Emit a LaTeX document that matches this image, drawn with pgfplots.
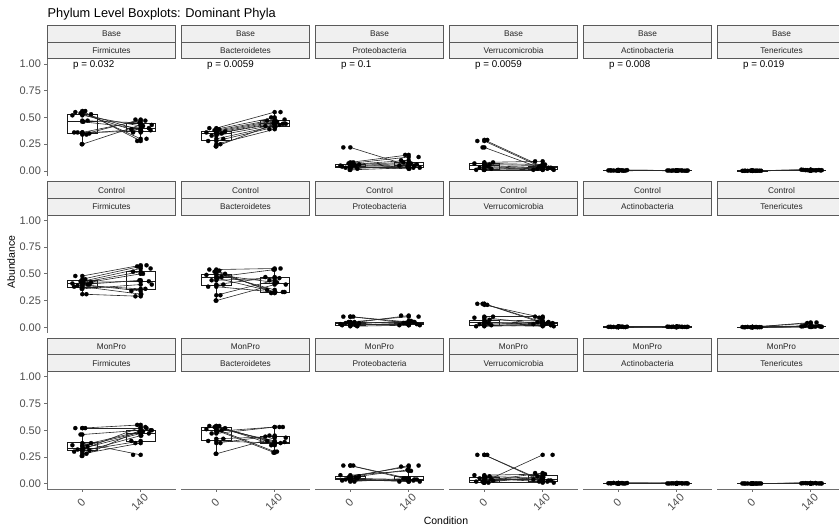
\documentclass[border=0pt]{standalone}
\usepackage{pgfplots}
\pgfplotsset{compat=1.18}
\usepackage{pgfplotstable}
\usepgfplotslibrary{statistics}
\usepackage{fontspec}
\setmainfont{Liberation Sans}
\definecolor{stripfill}{RGB}{240,240,240}
\definecolor{stripdraw}{RGB}{90,90,90}
\definecolor{axc}{RGB}{110,110,110}
\definecolor{tickc}{RGB}{77,77,77}
\definecolor{boxc}{RGB}{25,25,25}
\definecolor{linec}{RGB}{40,40,40}
\newcommand\tickfont{\fontsize{11}{13}\selectfont}
\newcommand\stripfont{\fontsize{8.3}{10}\selectfont}
\newcommand\pfont{\fontsize{9.8}{11}\selectfont}
\newcommand\axtfont{\fontsize{10.5}{12}\selectfont}
\newcommand\titfont{\fontsize{12.8}{15}\selectfont}

\pgfplotsset{
  bx/.style n args={6}{boxplot prepared={draw direction=y, draw position=#1, lower whisker=#2, lower quartile=#3, median=#4, upper quartile=#5, upper whisker=#6, box extend=0.5, whisker extend=0}},
  pt/.style={only marks, mark=*, mark size=2.1pt, mark options={fill=black, draw=black, line width=0.2pt}},
  pan/.style={scale only axis, width=128.4pt, height=117.7pt, xmin=0.4, xmax=2.6, ymin=-0.05, ymax=1.05,
    axis line style={draw=none}, xtick=\empty, ytick=\empty, clip=false, anchor=south west,
    tick pos=left, tick align=outside, major tick length=2.8pt, tick style={axc, line width=0.8pt},
    ticklabel style={font=\tickfont, text=tickc},
    /pgf/number format/assume math mode=true},
  ylab/.style={ytick={0,0.25,0.5,0.75,1}, yticklabels={0.00,0.25,0.50,0.75,1.00},
    extra description/.append code={\draw[axc, line width=0.9pt] (0,0) -- (0,1);}},
  xlab/.style={xtick={1,2}, xticklabels={0,140}, xticklabel style={yshift=-10.5pt, xshift=-1pt, rotate=45, anchor=center},
    extra description/.append code={\draw[axc, line width=0.9pt] (0,0) -- (1,0);}},
}

\pgfplotstableread{
ja jb
-0.12 0.10
0.05 -0.06
-0.03 0.17
0.15 -0.13
-0.17 0.04
0.09 -0.02
0.02 0.14
-0.08 0.08
0.12 -0.16
-0.14 0.01
0.07 -0.09
-0.01 0.19
}\jit

% ---------- Base ----------
\pgfplotstableread{
a b
0.55 0.30
0.56 0.28
0.54 0.38
0.53 0.36
0.52 0.42
0.47 0.45
0.46 0.40
0.36 0.47
0.35 0.39
0.36 0.37
0.34 0.48
0.25 0.43
}\tBF
\pgfplotstableread{
a b
0.40 0.55
0.39 0.50
0.38 0.48
0.37 0.47
0.36 0.46
0.35 0.45
0.35 0.44
0.33 0.43
0.30 0.42
0.28 0.41
0.25 0.39
0.23 0.44
}\tBB
\pgfplotstableread{
a b
0.22 0.05
0.08 0.15
0.07 0.13
0.06 0.10
0.05 0.07
0.05 0.04
0.04 0.06
0.03 0.03
0.02 0.05
0.04 0.02
0.06 0.08
0.01 0.03
}\tBP
\pgfplotstableread{
a b
0.28 0.03
0.29 0.04
0.22 0.02
0.08 0.09
0.07 0.06
0.06 0.05
0.05 0.03
0.03 0.02
0.02 0.01
0.01 0.04
0.04 0.02
0.01 0.01
}\tBV
\pgfplotstableread{
a b
0.004 0.003
0.006 0.005
0.003 0.002
0.008 0.004
0.005 0.006
0.002 0.003
0.007 0.002
0.004 0.005
0.003 0.004
0.006 0.003
0.005 0.002
0.009 0.004
}\tBA
\pgfplotstableread{
a b
0.002 0.006
0.001 0.008
0.003 0.005
0.002 0.010
0.001 0.007
0.002 0.004
0.003 0.009
0.001 0.006
0.002 0.012
0.001 0.005
0.002 0.008
0.003 0.007
}\tBT
% ---------- Control ----------
\pgfplotstableread{
a b
0.48 0.58
0.45 0.57
0.43 0.55
0.42 0.52
0.41 0.50
0.40 0.44
0.42 0.43
0.39 0.36
0.40 0.34
0.38 0.31
0.31 0.29
0.36 0.40
}\tCF
\pgfplotstableread{
a b
0.54 0.55
0.53 0.32
0.52 0.33
0.50 0.35
0.49 0.42
0.47 0.54
0.46 0.33
0.44 0.46
0.40 0.47
0.38 0.33
0.30 0.44
0.25 0.40
}\tCB
\pgfplotstableread{
a b
0.10 0.05
0.10 0.04
0.05 0.10
0.04 0.11
0.03 0.06
0.02 0.04
0.03 0.03
0.04 0.05
0.01 0.02
0.02 0.03
0.05 0.04
0.03 0.02
}\tCP
\pgfplotstableread{
a b
0.22 0.05
0.21 0.09
0.22 0.04
0.10 0.10
0.09 0.03
0.07 0.06
0.05 0.02
0.03 0.04
0.02 0.03
0.01 0.02
0.04 0.05
0.02 0.01
}\tCV
\pgfplotstableread{
a b
0.003 0.004
0.005 0.006
0.002 0.003
0.006 0.005
0.004 0.007
0.003 0.002
0.008 0.004
0.004 0.005
0.002 0.006
0.005 0.003
0.006 0.004
0.003 0.005
}\tCA
\pgfplotstableread{
a b
0.002 0.045
0.003 0.040
0.001 0.006
0.002 0.010
0.003 0.008
0.001 0.005
0.002 0.012
0.004 0.007
0.002 0.009
0.001 0.004
0.003 0.015
0.002 0.006
}\tCT
% ---------- MonPro ----------
\pgfplotstableread{
a b
0.52 0.52
0.52 0.55
0.46 0.50
0.38 0.27
0.36 0.49
0.35 0.48
0.33 0.47
0.32 0.53
0.31 0.40
0.30 0.45
0.28 0.38
0.26 0.50
}\tMF
\pgfplotstableread{
a b
0.54 0.38
0.54 0.36
0.53 0.39
0.52 0.40
0.51 0.30
0.50 0.29
0.49 0.53
0.47 0.53
0.42 0.44
0.40 0.38
0.38 0.45
0.28 0.43
}\tMB
\pgfplotstableread{
a b
0.17 0.04
0.17 0.05
0.06 0.17
0.07 0.16
0.08 0.12
0.06 0.13
0.05 0.04
0.04 0.03
0.05 0.02
0.03 0.03
0.02 0.05
0.04 0.02
}\tMP
\pgfplotstableread{
a b
0.27 0.03
0.27 0.02
0.02 0.27
0.03 0.10
0.08 0.09
0.07 0.05
0.06 0.03
0.05 0.02
0.04 0.04
0.02 0.06
0.01 0.07
0.01 0.01
}\tMV
\pgfplotstableread{
a b
0.004 0.003
0.006 0.004
0.003 0.005
0.007 0.002
0.005 0.006
0.002 0.003
0.004 0.004
0.008 0.005
0.003 0.003
0.005 0.007
0.006 0.004
0.004 0.002
}\tMA
\pgfplotstableread{
a b
0.002 0.004
0.003 0.005
0.001 0.003
0.002 0.006
0.003 0.004
0.002 0.005
0.001 0.003
0.002 0.007
0.003 0.004
0.002 0.005
0.001 0.006
0.002 0.003
}\tMT

\newcommand{\panel}[7]{%
\pgfplotstablecreatecol[copy column from table={\jit}{ja}]{ja}{#3}%
\pgfplotstablecreatecol[copy column from table={\jit}{jb}]{jb}{#3}%
\begin{axis}[pan, at={(#1pt,#2pt)}, #6]
\addplot[bx={1}#4, draw=boxc, line width=0.55pt, fill=none, solid] coordinates {};
\addplot[bx={2}#5, draw=boxc, line width=0.55pt, fill=none, solid] coordinates {};
\addplot[quiver={u=1, v=\thisrow{b}-\thisrow{a}}, draw=linec, line width=0.6pt, no marks] table[x expr=1, y=a] {#3};
\addplot[pt] table[x expr=1, y=a] {#3};
\addplot[pt] table[x expr=2, y=b] {#3};
\addplot[pt] table[x expr=1+\thisrow{ja}, y=a] {#3};
\addplot[pt] table[x expr=2+\thisrow{jb}, y=b] {#3};
\node[anchor=west, font=\pfont, inner sep=0pt] at (axis cs:0.84,0.985) {#7};
\end{axis}}

\newcommand{\strip}[4]{%
\draw[stripdraw, fill=stripfill, line width=0.9pt] (#1pt,#2pt) rectangle ++(128.4pt,-16.6pt);
\draw[stripdraw, fill=stripfill, line width=0.9pt] (#1pt,#2pt-16.6pt) rectangle ++(128.4pt,-16.6pt);
\node[font=\stripfont, text=black!85] at (#1pt+64.2pt,#2pt-8.3pt) {#3};
\node[font=\stripfont, text=black!85] at (#1pt+64.2pt,#2pt-24.9pt) {#4};}

\begin{document}
\begin{tikzpicture}
\path[use as bounding box] (0pt,0pt) rectangle (839pt,529pt);
\clip (0pt,0pt) rectangle (839pt,529pt);
% title and axis titles
\node[anchor=base west, font=\titfont, inner sep=0pt] at (47.5pt,511.7pt) {Phylum Level Boxplots: Dominant Phyla};
\node[rotate=90, font=\axtfont] at (11pt,267pt) {Abundance};
\node[anchor=base, font=\axtfont, inner sep=0pt] at (446pt,4pt) {Condition};
% strips
\foreach \yt/\g in {503.6/Base, 347.2/Control, 190.8/MonPro}{
  \strip{47.3}{\yt}{\g}{Firmicutes}
  \strip{181.3}{\yt}{\g}{Bacteroidetes}
  \strip{315.3}{\yt}{\g}{Proteobacteria}
  \strip{449.3}{\yt}{\g}{Verrucomicrobia}
  \strip{583.3}{\yt}{\g}{Actinobacteria}
  \strip{717.3}{\yt}{\g}{Tenericutes}
}
% row 1: Base
\panel{47.3}{352.7}{\tBF}{{0.25}{0.355}{0.465}{0.53}{0.56}}{{0.28}{0.37}{0.395}{0.45}{0.49}}{ylab}{p = 0.032}
\panel{181.3}{352.7}{\tBB}{{0.23}{0.29}{0.35}{0.375}{0.41}}{{0.38}{0.42}{0.445}{0.475}{0.55}}{}{p = 0.0059}
\panel{315.3}{352.7}{\tBP}{{0.01}{0.03}{0.045}{0.065}{0.09}}{{0.02}{0.03}{0.055}{0.085}{0.15}}{}{p = 0.1}
\panel{449.3}{352.7}{\tBV}{{0.0}{0.02}{0.05}{0.075}{0.1}}{{0.0}{0.015}{0.03}{0.045}{0.09}}{}{p = 0.0059}
\panel{583.3}{352.7}{\tBA}{{0.002}{0.0035}{0.005}{0.0065}{0.009}}{{0.002}{0.0025}{0.0035}{0.0045}{0.006}}{}{p = 0.008}
\panel{717.3}{352.7}{\tBT}{{0.001}{0.001}{0.002}{0.0025}{0.003}}{{0.004}{0.0055}{0.007}{0.0085}{0.012}}{}{p = 0.019}
% row 2: Control
\panel{47.3}{196.3}{\tCF}{{0.31}{0.375}{0.41}{0.44}{0.50}}{{0.29}{0.355}{0.435}{0.525}{0.58}}{ylab}{}
\panel{181.3}{196.3}{\tCB}{{0.25}{0.39}{0.465}{0.50}{0.55}}{{0.30}{0.33}{0.415}{0.47}{0.55}}{}{}
\panel{315.3}{196.3}{\tCP}{{0.01}{0.02}{0.035}{0.045}{0.06}}{{0.02}{0.03}{0.04}{0.05}{0.07}}{}{}
\panel{449.3}{196.3}{\tCV}{{0.0}{0.02}{0.045}{0.07}{0.1}}{{0.01}{0.02}{0.035}{0.05}{0.09}}{}{}
\panel{583.3}{196.3}{\tCA}{{0.002}{0.003}{0.004}{0.0055}{0.008}}{{0.002}{0.0035}{0.0045}{0.0055}{0.007}}{}{}
\panel{717.3}{196.3}{\tCT}{{0.001}{0.0015}{0.002}{0.003}{0.004}}{{0.004}{0.006}{0.0085}{0.0125}{0.02}}{}{}
% row 3: MonPro
\panel{47.3}{39.9}{\tMF}{{0.25}{0.31}{0.335}{0.385}{0.46}}{{0.36}{0.395}{0.475}{0.50}{0.56}}{ylab, xlab}{}
\panel{181.3}{39.9}{\tMB}{{0.28}{0.41}{0.50}{0.525}{0.55}}{{0.29}{0.375}{0.39}{0.44}{0.53}}{xlab}{}
\panel{315.3}{39.9}{\tMP}{{0.02}{0.04}{0.055}{0.07}{0.09}}{{0.02}{0.03}{0.045}{0.07}{0.13}}{xlab}{}
\panel{449.3}{39.9}{\tMV}{{0.01}{0.015}{0.035}{0.065}{0.1}}{{0.01}{0.02}{0.04}{0.075}{0.1}}{xlab}{}
\panel{583.3}{39.9}{\tMA}{{0.002}{0.0035}{0.0045}{0.006}{0.008}}{{0.002}{0.003}{0.004}{0.005}{0.007}}{xlab}{}
\panel{717.3}{39.9}{\tMT}{{0.001}{0.002}{0.002}{0.003}{0.003}}{{0.003}{0.0035}{0.0045}{0.0055}{0.007}}{xlab}{}
\end{tikzpicture}
\end{document}
